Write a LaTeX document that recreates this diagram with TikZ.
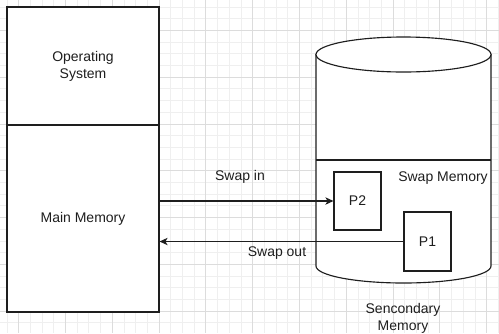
\documentclass[tikz,border=0pt]{standalone}
\usepackage{fontspec}
\setmainfont{Liberation Sans}
\usetikzlibrary{arrows.meta}
\definecolor{gridminor}{HTML}{EFEFEF}
\definecolor{gridmajor}{HTML}{DCDCDC}
\definecolor{ink}{HTML}{1E1E1E}
\begin{document}
\begin{tikzpicture}[x=0.75pt,y=-0.75pt,
  every node/.style={font=\fontsize{10.5}{12.6}\selectfont, text=ink},
  box/.style={draw=ink, line width=0.85pt, fill=white, inner sep=0pt, align=center},
  lbl/.style={inner sep=0pt, align=center},
  conn/.style={draw=ink, line width=0.85pt, -{Stealth[length=6pt,width=5.5pt,inset=1.6pt]}},
  gminor/.style={draw=gridminor, line width=0.75pt},
  gmajor/.style={draw=gridmajor, line width=0.75pt}]
\useasboundingbox (0,0) rectangle (499,333);
\fill[white] (0,0) rectangle (499,333);
\begin{scope}
\clip (0,0) rectangle (499,333);
\foreach \k in {-1,...,42} {\pgfmathsetmacro{\xx}{7+11.7*\k}\draw[gminor] (\xx,0) -- (\xx,333);}
\foreach \k in {-1,...,28} {\pgfmathsetmacro{\yy}{7+11.7*\k}\draw[gminor] (0,\yy) -- (499,\yy);}
\foreach \k in {0,...,10} {\pgfmathsetmacro{\xx}{18.7+46.8*\k}\draw[gmajor] (\xx,0) -- (\xx,333);}
\foreach \k in {-1,...,7} {\pgfmathsetmacro{\yy}{30.4+46.8*\k}\draw[gmajor] (0,\yy) -- (499,\yy);}
\end{scope}

% main memory column
\node[box, minimum width=114pt, minimum height=88.5pt] (os) at (83,66) {Operating\\System};
\node[box, minimum width=114pt, minimum height=140.25pt] (mm) at (83,218.5) {Main Memory};

% secondary memory cylinder
\filldraw[draw=ink, fill=white, line width=0.85pt]
  (316,54.5) -- (316,266)
  .. controls (316,275.4) and (355.2,283) .. (403.5,283)
  .. controls (451.8,283) and (491,275.4) .. (491,266)
  -- (491,54.5) -- cycle;
\filldraw[draw=ink, fill=white, line width=0.85pt] (403.5,54.5) ellipse [x radius=87.5, y radius=17.5];
\coordinate (swl) at (316,160);
\coordinate (swr) at (491,160);
\draw[ink, line width=0.85pt] (swl) -- (swr);
\node[lbl] (swap) at (443,178) {Swap Memory};

\node[box, minimum width=35.25pt, minimum height=43.5pt] (p2) at (357.5,201) {P2};
\node[box, minimum width=35.25pt, minimum height=44.25pt] (p1) at (427.5,241.5) {P1};

\node[lbl] (sec) at (403,318) {Sencondary\\Memory};

% connectors
\draw[conn] (mm.east |- p2.west) -- (p2.west);
\draw[conn] (p1.west) -- (mm.east |- p1.west);
\node[lbl] (lin) at (240,177) {Swap in};
\node[lbl] (lout) at (277,253) {Swap out};
\end{tikzpicture}
\end{document}
